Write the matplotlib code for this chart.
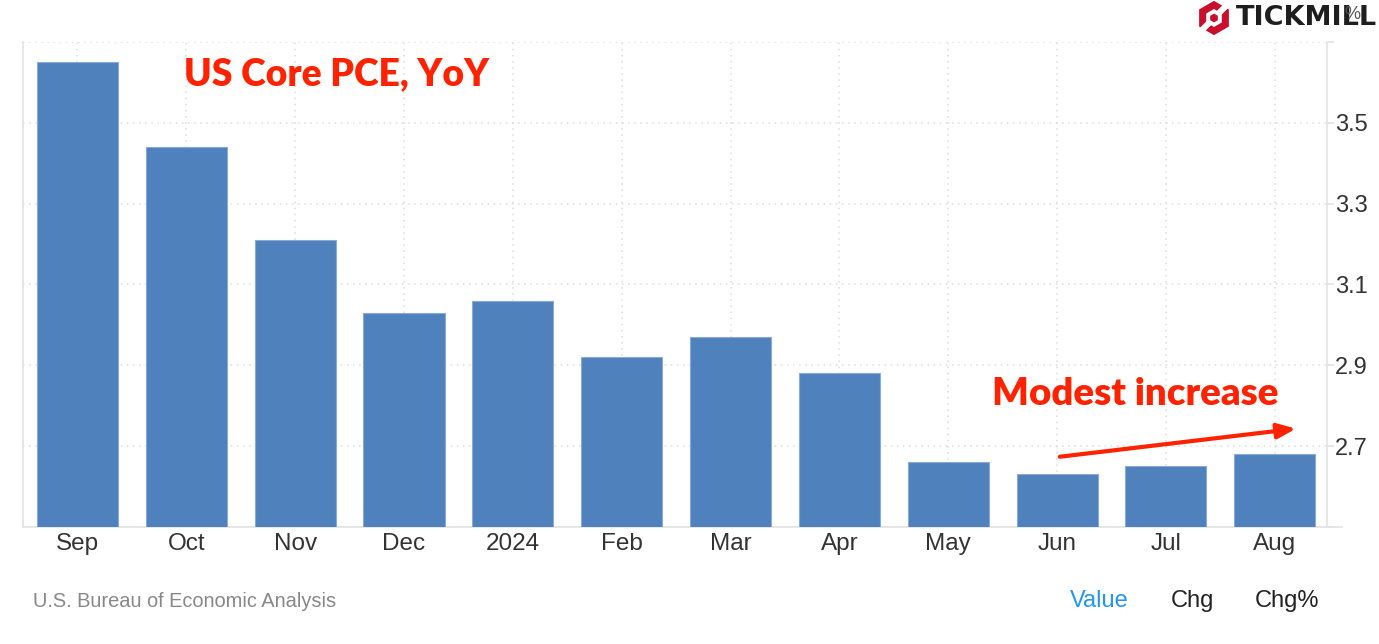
import numpy as np
import matplotlib.pyplot as plt
from matplotlib.patches import RegularPolygon, Polygon

months = ['Sep', 'Oct', 'Nov', 'Dec', '2024', 'Feb', 'Mar', 'Apr', 'May', 'Jun', 'Jul', 'Aug']
values = [3.65, 3.44, 3.21, 3.03, 3.06, 2.92, 2.97, 2.88, 2.66, 2.63, 2.65, 2.68]
yticks = [2.5, 2.7, 2.9, 3.1, 3.3, 3.5, 3.7]
ylabels = ['', '2.7', '2.9', '3.1', '3.3', '3.5', '']

bar_color = '#4f81bd'
red = '#ff2200'
grid_color = '#dcdcdc'
axis_color = '#e3e3e3'
font = 'Liberation Sans'

fig = plt.figure(figsize=(13.79, 6.44), dpi=100)
ax = fig.add_axes([0.0167, 0.1817, 0.9456, 0.7531])

x = np.arange(len(months))
ax.bar(x, values, width=0.745, color=bar_color,
       edgecolor='#8aaad6', linewidth=0.8, zorder=3)

ax.set_xlim(-0.5, 11.48)
ax.set_ylim(2.5, 3.7)

ax.set_xticks(x)
ax.set_xticklabels(months, fontsize=17.5, color='#333333', family=font)
ax.tick_params(axis='x', length=0, pad=4)

ax.yaxis.tick_right()
ax.set_yticks(yticks)
ax.set_yticklabels(ylabels, fontsize=17, color='#333333', family=font)
ax.tick_params(axis='y', length=5, width=1.2, color=axis_color, pad=1)

ax.grid(True, linestyle=(0, (1, 3)), color=grid_color, linewidth=1.1, zorder=0)

ax.spines['top'].set_visible(False)
for side in ['left', 'right', 'bottom']:
    ax.spines[side].set_color(axis_color)
    ax.spines[side].set_linewidth(1.2)

# bottom line runs a little past the right axis
ax.plot([11.48, 11.62], [2.5, 2.5], color=axis_color, lw=1.2, clip_on=False)

# annotations
ax.text(0.98, 3.62, 'US Core PCE, YoY', fontsize=26.8, fontweight='heavy',
        family='Lato', color=red, va='center', ha='left')
ax.text(8.4, 2.83, 'Modest increase', fontsize=27.6, fontweight='heavy',
        family='Lato', color=red, va='center', ha='left')
ax.annotate('', xy=(11.22, 2.744), xytext=(9.0, 2.673),
            arrowprops=dict(arrowstyle='-|>,head_length=1.1,head_width=0.45',
                            color=red, lw=3), zorder=5)

# footer
fig.text(0.024, 0.066, 'U.S. Bureau of Economic Analysis', fontsize=14.4,
         color='#888888', va='center', ha='left', family=font)
fig.text(0.7755, 0.066, 'Value', fontsize=17, color='#2196f3', va='center', ha='left', family=font)
fig.text(0.849, 0.066, 'Chg', fontsize=17, color='#222222', va='center', ha='left', family=font)
fig.text(0.910, 0.066, 'Chg%', fontsize=17, color='#222222', va='center', ha='left', family=font)

# logo
lax = fig.add_axes([1196 / 1379, 1 - 36 / 644, 36 / 1379, 36 / 644])
lax.set_xlim(-1.1, 1.1)
lax.set_ylim(-1.1, 1.1)
lax.set_aspect('equal')
lax.axis('off')
lax.add_patch(RegularPolygon((0, 0), 6, radius=1.0, orientation=0, color='#c8102e'))
lax.add_patch(RegularPolygon((0, 0), 6, radius=0.5, orientation=0, color='white'))
lax.add_patch(RegularPolygon((0, 0), 6, radius=0.22, orientation=0, color='#c8102e'))
lax.add_patch(Polygon([[0.15, 0.35], [0.35, 0.15], [1.1, 0.9], [0.9, 1.1]], color='white'))
lax.add_patch(Polygon([[-0.15, -0.35], [-0.35, -0.15], [-1.1, -0.9], [-0.9, -1.1]], color='white'))

fig.text(0.8965, 0.972, 'TICKMILL', fontsize=19.5, fontweight='bold', family='DejaVu Sans',
         color='#1e1e1e', va='center', ha='left')
# unit label
fig.text(0.9805, 0.99, '%', fontsize=13, color='#555555', va='top', ha='center', family=font)

fig.savefig('out.png', dpi=100)
